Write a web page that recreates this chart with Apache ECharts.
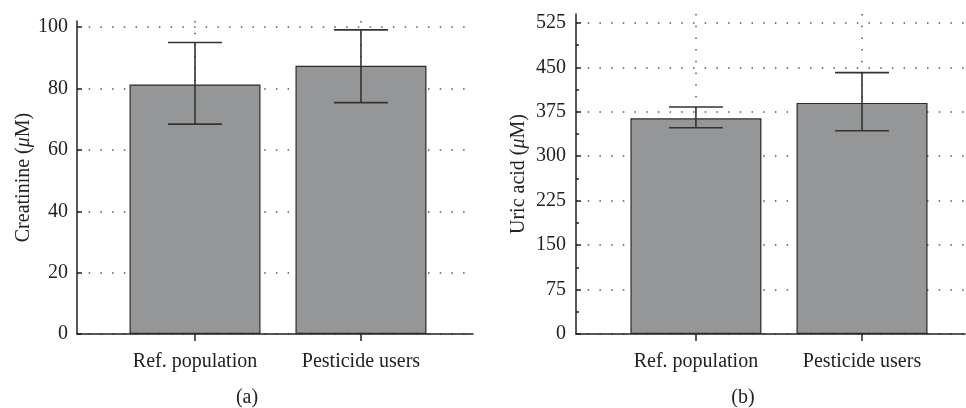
<!DOCTYPE html>
<html>
<head>
<meta charset="utf-8">
<script src="https://cdn.jsdelivr.net/npm/echarts@6/dist/echarts.min.js"></script>
<style>
    html, body { margin: 0; padding: 0; background: #fff; }
    #chart { width: 966px; height: 408px; }
</style>
</head>
<body>
<div id="chart"></div>
<script>
    // groups on the x axis
    const categories = ['Ref. population', 'Pesticide users'];

    // (a) creatinine, µM
    const creatMean = [81.3, 87.4];
    const creatUpper = [95.0, 99.1];
    const creatLower = [68.4, 75.4];
    const creatTicks = [0, 20, 40, 60, 80, 100];

    // (b) uric acid, µM
    const uricMean = [364, 390];
    const uricUpper = [383, 441];
    const uricLower = [348, 343];
    const uricTicks = [0, 75, 150, 225, 300, 375, 450, 525];
    const uricMinorTicks = [37.5, 112.5, 187.5, 262.5, 337.5, 412.5, 487.5];

    const font = 'Liberation Serif';
    const fontSize = 20;
    const ink = '#222';
    const dotted = { color: '#555', width: 1.5, type: [1.5, 10.2] };

    function errorBarItem(params, api) {
        const x = api.value(0);
        const top = api.coord([x, api.value(2)]);
        const bot = api.coord([x, api.value(1)]);
        const half = 27;
        const style = { stroke: '#333', lineWidth: 1.6 };
        return {
            type: 'group',
            children: [
                { type: 'line', shape: { x1: top[0], y1: top[1], x2: bot[0], y2: bot[1] }, style: style },
                { type: 'line', shape: { x1: top[0] - half, y1: top[1], x2: top[0] + half, y2: top[1] }, style: style },
                { type: 'line', shape: { x1: bot[0] - half, y1: bot[1], x2: bot[0] + half, y2: bot[1] }, style: style }
            ]
        };
    }

    function xAxisFor(grid, min, max) {
        return {
            type: 'value', gridIndex: grid, min: min, max: max,
            axisLine: { show: true, onZero: false, lineStyle: { color: ink, width: 1.5 } },
            axisTick: { show: true, customValues: [0, 1], length: 7, lineStyle: { color: ink, width: 1.5 } },
            axisLabel: {
                customValues: [0, 1], margin: 18, color: ink, fontFamily: font, fontSize: fontSize,
                formatter: v => categories[Math.round(v)]
            },
            splitLine: { show: true, lineStyle: dotted }
        };
    }

    function yAxisFor(grid, max, ticks, title) {
        return {
            type: 'value', gridIndex: grid, min: 0, max: max, position: 'left',
            axisLine: { show: true, onZero: false, lineStyle: { color: ink, width: 1.5 } },
            axisTick: { show: true, inside: true, length: 5, customValues: ticks, lineStyle: { color: ink, width: 1.5 } },
            axisLabel: { customValues: ticks, margin: 9, color: ink, fontFamily: font, fontSize: fontSize },
            splitLine: { show: true, lineStyle: dotted },
            name: title,
            nameLocation: 'middle',
            nameGap: 42,
            nameTextStyle: {
                color: ink, fontFamily: font, fontSize: fontSize,
                rich: { i: { fontStyle: 'italic', fontFamily: font, fontSize: fontSize, color: ink } }
            }
        };
    }

    const chart = echarts.init(document.getElementById('chart'));

    const yUric = yAxisFor(1, 540, uricTicks, 'Uric acid ({i|μ}M)');
    yUric.nameGap = 47;
    yUric.axisLabel.margin = 10;

    chart.setOption({
        animation: false,
        backgroundColor: '#fff',
        grid: [
            { left: 77, top: 21, width: 396, bottom: 74 },
            { left: 576, top: 14, width: 389, bottom: 74 }
        ],
        xAxis: [
            xAxisFor(0, -0.711, 1.675),
            xAxisFor(1, -0.722, 1.62)
        ],
        yAxis: [
            yAxisFor(0, 102, creatTicks, 'Creatinine ({i|μ}M)'),
            yUric,
            {
                // minor ticks on the uric acid axis
                type: 'value', gridIndex: 1, min: 0, max: 540, position: 'left',
                axisLine: { show: false, onZero: false },
                axisTick: { show: true, inside: true, length: 3, customValues: uricMinorTicks, lineStyle: { color: ink, width: 1.5 } },
                axisLabel: { show: false },
                splitLine: { show: false }
            }
        ],
        series: [
            {
                type: 'bar', xAxisIndex: 0, yAxisIndex: 0, barWidth: 131,
                itemStyle: { color: '#959698', borderColor: '#2a2a2a', borderWidth: 1.2 },
                data: creatMean.map((v, i) => [i, v])
            },
            {
                type: 'custom', xAxisIndex: 0, yAxisIndex: 0, z: 5,
                renderItem: errorBarItem,
                encode: { x: 0, y: [1, 2] },
                data: creatMean.map((v, i) => [i, creatLower[i], creatUpper[i]])
            },
            {
                type: 'bar', xAxisIndex: 1, yAxisIndex: 1, barWidth: 131,
                itemStyle: { color: '#959698', borderColor: '#2a2a2a', borderWidth: 1.2 },
                data: uricMean.map((v, i) => [i, v])
            },
            {
                type: 'custom', xAxisIndex: 1, yAxisIndex: 1, z: 5,
                renderItem: errorBarItem,
                encode: { x: 0, y: [1, 2] },
                data: uricMean.map((v, i) => [i, uricLower[i], uricUpper[i]])
            }
        ],
        graphic: [
            { type: 'text', x: 247, y: 398, style: { text: '(a)', fill: ink, font: fontSize + 'px "Liberation Serif"', textAlign: 'center', textVerticalAlign: 'middle' } },
            { type: 'text', x: 743, y: 398, style: { text: '(b)', fill: ink, font: fontSize + 'px "Liberation Serif"', textAlign: 'center', textVerticalAlign: 'middle' } }
        ]
    });
</script>
</body>
</html>
